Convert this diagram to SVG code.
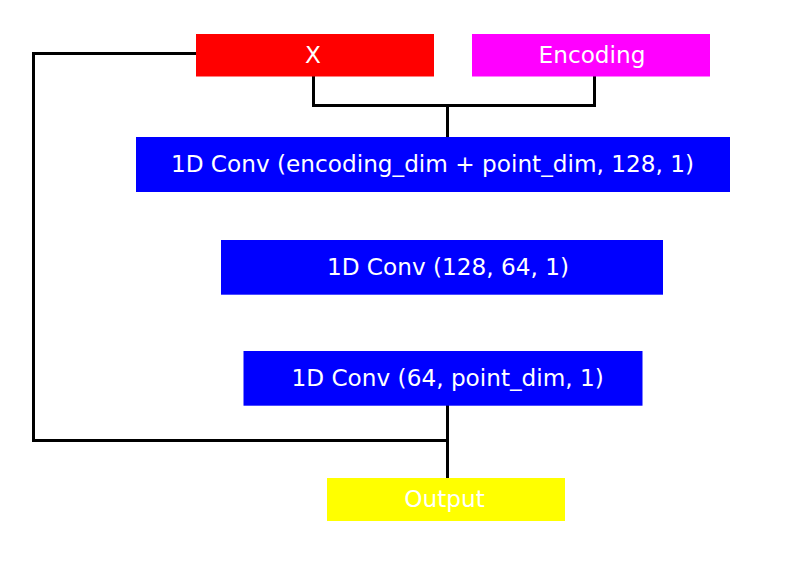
<svg xmlns="http://www.w3.org/2000/svg" width="810" height="566" viewBox="0 0 810 566">
<style>
.lbl{font-family:"DejaVu Sans",sans-serif;font-size:23.2px;fill:#fff;text-anchor:middle}
.ln{fill:none;stroke:#000;stroke-width:3}
</style>
<rect width="810" height="566" fill="#fff"/>
<g id="connectors">
<polyline class="ln" points="196,53.5 33.5,53.5 33.5,440.5 448,440.5"/>
<polyline class="ln" points="313.5,76 313.5,105.5 594.5,105.5 594.5,76"/>
<line class="ln" x1="447.5" y1="105.5" x2="447.5" y2="137"/>
<line class="ln" x1="447.5" y1="405" x2="447.5" y2="478"/>
</g>
<g id="node-x">
<rect x="196" y="34" width="238" height="42.5" fill="#ff0000"/>
<text class="lbl" x="313" y="63.3">X</text>
</g>
<g id="node-encoding">
<rect x="472" y="34" width="238" height="42.5" fill="#ff00ff"/>
<text class="lbl" x="592" y="62.5">Encoding</text>
</g>
<g id="node-conv1">
<rect x="136" y="137" width="594" height="55" fill="#0000ff"/>
<text class="lbl" x="432.5" y="172.3">1D Conv (encoding_dim + point_dim, 128, 1)</text>
</g>
<g id="node-conv2">
<rect x="221" y="240" width="442" height="54.7" fill="#0000ff"/>
<text class="lbl" x="448" y="275">1D Conv (128, 64, 1)</text>
</g>
<g id="node-conv3">
<rect x="243.5" y="351" width="399" height="54.7" fill="#0000ff"/>
<text class="lbl" x="447.7" y="385.5">1D Conv (64, point_dim, 1)</text>
</g>
<g id="node-output">
<rect x="327" y="478" width="238" height="43" fill="#ffff00"/>
<text class="lbl" x="444.5" y="507">Output</text>
</g>
</svg>
